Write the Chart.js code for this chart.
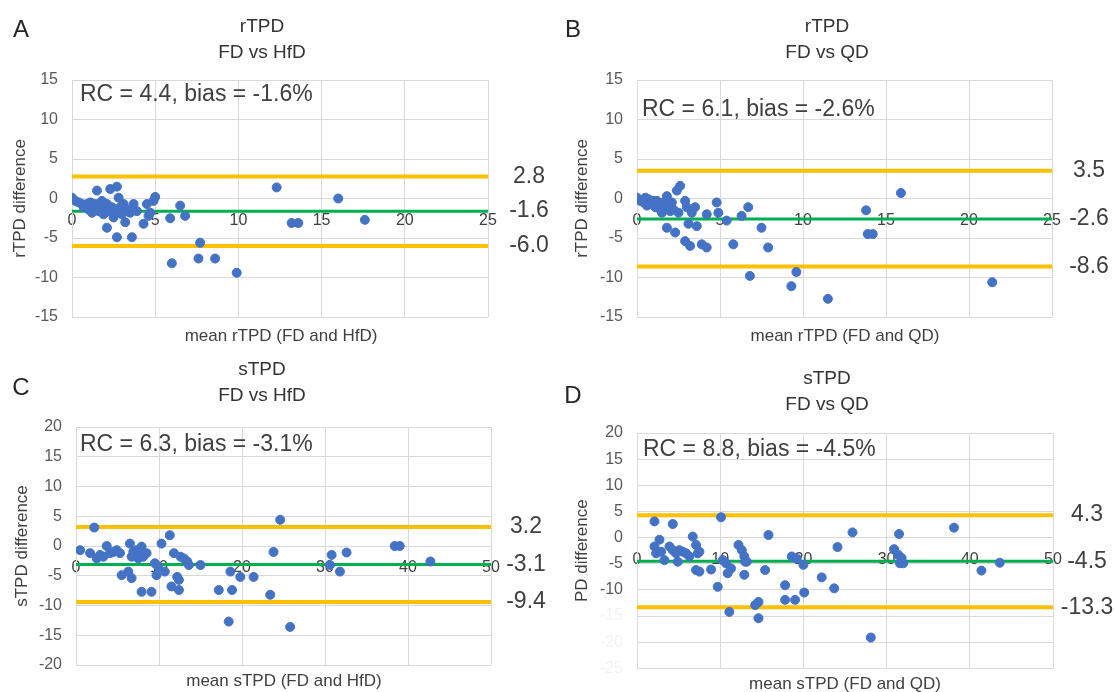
<!DOCTYPE html>
<html>
<head>
<meta charset="utf-8">
<script src="https://cdn.jsdelivr.net/npm/chart.js@4.4.0/dist/chart.umd.min.js"></script>
<style>
  body { margin: 0; background: #fff; width: 1117px; height: 692px; overflow: hidden; position: relative;
         font-family: "Liberation Sans", Arial, sans-serif; }
  .panel { position: absolute; }
  .txt { position: absolute; white-space: nowrap; transform: translate(-50%, -50%); color: #333; line-height: 1; }
  .letter { font-size: 24px; color: #262626; }
  .title { font-size: 19px; }
  .xtitle { font-size: 17px; color: #404040; }
</style>
</head>
<body>
<script>
// A: rTPD, FD vs HfD
const rtpdHfdMean = [0.0,0.2,0.4,0.6,0.7,0.9,1.0,1.1,1.2,1.3,1.4,1.5,1.6,1.7,1.8,1.9,2.0,2.1,2.2,2.3,
    2.4,2.5,2.6,2.7,2.8,2.9,3.0,3.1,3.2,3.3,3.5,3.7,3.9,4.3,4.5,4.6,4.7,4.9,5.0,
    2.1,2.7,3.6,5.9,6.5,6.8,6.0,7.7,7.6,8.6,9.9,12.3,13.2,13.6,16.0,17.6];
const rtpdHfdDiff = [0.1,-0.3,-0.5,-0.7,-1.1,-0.7,-1.4,-0.5,-1.8,-1.1,-0.7,1.0,-1.6,-1.1,-0.3,-2.0,-1.4,-0.7,-1.6,1.2,
    -1.1,-2.4,-1.8,1.5,0.1,-1.1,-2.0,-0.7,-3.0,-1.4,-1.8,-0.7,-1.6,-3.2,-0.7,-2.2,-1.8,-0.3,0.2,
    -3.7,-4.9,-4.9,-2.5,-0.9,-2.2,-8.2,-5.6,-7.6,-7.6,-9.4,1.4,-3.1,-3.1,0.0,-2.7];
const rtpdHfdLimits = [2.8, -1.6, -6.0];

// B: rTPD, FD vs QD
const rtpdQdMean = [0,0.2,0.4,0.5,0.6,0.7,0.8,1.0,1.1,1.2,1.3,1.4,1.5,1.6,1.7,1.8,1.9,2.0,2.1,2.2,
    2.4,2.5,2.6,1.8,2.3,2.9,3.0,3.1,2.9,3.2,3.3,3.5,3.6,3.9,4.2,4.2,4.8,4.9,5.4,5.8,
    6.3,6.7,6.8,7.5,7.9,9.3,9.6,11.5,13.8,13.9,14.2,15.9,21.4];
const rtpdQdDiff = [0.1,-0.3,-0.5,0.1,-0.9,-0.1,-0.7,-0.3,-1.1,-0.3,-0.7,-1.4,-1.8,-0.5,-1.1,0.3,-0.9,-1.6,-0.5,-1.4,
    1.0,-1.8,1.6,-3.7,-4.3,-0.3,-1.1,-3.2,-5.4,-6.0,-1.8,-1.1,-3.5,-5.8,-6.2,-2.0,-0.5,-1.8,-2.8,-5.8,
    -2.2,-1.1,-9.8,-3.7,-6.2,-11.1,-9.3,-12.7,-1.5,-4.5,-4.5,0.7,-10.6];
const rtpdQdLimits = [3.5, -2.6, -8.6];

// C: sTPD, FD vs HfD
const stpdHfdMean = [0.5,1.7,2.2,2.5,2.9,3.3,3.7,4.1,4.5,4.9,5.3,5.5,6.3,6.5,6.7,6.7,6.9,7.1,7.3,7.5,
    7.7,7.9,7.9,8.1,8.5,9.1,9.5,9.7,9.9,10.3,10.7,11.3,11.8,12.2,12.4,12.4,11.5,12.6,13.0,13.4,
    13.6,15.0,17.2,18.4,18.6,18.8,19.8,21.4,23.4,23.8,24.6,25.8,30.8,32.6,30.6,31.8,38.4,39.0,42.7];
const stpdHfdDiff = [-0.7,-1.2,3.1,-2.1,-1.5,-1.8,0,-1.2,-1.0,-0.7,-1.2,-4.9,-4.3,0.4,-1.8,-5.4,-1.0,-1.5,-0.7,-2.1,
    -1.2,-0.1,-7.7,-1.8,-1.2,-7.7,-2.9,-4.9,-3.5,0.4,-4.3,1.8,-1.2,-5.2,-5.7,-7.4,-6.8,-1.8,-2.1,-2.6,
    -3.2,-3.2,-7.4,-12.7,-4.3,-7.4,-5.2,-5.2,-8.2,-1.0,4.4,-13.6,-1.5,-1.1,-3.2,-4.3,0,0,-2.6];
const stpdHfdLimits = [3.2, -3.1, -9.4];

// D: sTPD, FD vs QD
const stpdQdMean = [2.1,4.3,2.1,2.7,2.3,2.9,3.3,3.9,4.3,4.7,4.9,5.1,5.5,5.9,6.3,6.7,7.1,7.3,7.5,7.1,
    7.5,8.9,9.7,10.1,10.3,10.7,10.9,11.3,11.1,12.2,12.6,12.9,13.0,12.9,13.2,14.2,14.6,14.6,15.4,15.8,
    17.8,17.8,18.6,19.0,19.2,20.0,20.1,22.2,23.7,24.1,25.9,28.1,30.9,31.5,31.4,31.8,31.6,32.0,38.1,41.4,43.6];
const stpdQdDiff = [3.1,2.6,-1.7,-0.4,-3.0,-2.7,-4.3,-1.7,-2.4,-3.0,-4.6,-2.4,-2.7,-3.0,-3.6,0.2,-1.4,-3.0,-2.7,-6.2,
    -6.5,-6.1,-9.4,3.9,-4.3,-4.9,-6.8,-5.9,-14.2,-1.4,-2.4,-3.6,-4.6,-7.1,-4.6,-12.9,-12.3,-15.4,-6.2,0.5,
    -9.1,-11.9,-3.6,-11.9,-4.0,-5.2,-10.5,-7.6,-9.7,-1.8,1.0,-19.1,-2.2,0.7,-3.3,-3.9,-4.9,-4.9,1.9,-6.3,-4.8];
const stpdQdLimits = [4.3, -4.5, -13.3];

// tick labels
const xTicksR = [0, 5, 10, 15, 20, 25];
const xTicksS = [0, 10, 20, 30, 40, 50];
const yTicksR = [-15, -10, -5, 0, 5, 10, 15];
const yTicksC = [-20, -15, -10, -5, 0, 5, 10, 15, 20];
const yTicksD = [-25, -20, -15, -10, -5, 0, 5, 10, 15, 20];

const notes = ['RC = 4.4, bias = -1.6%', 'RC = 6.1, bias = -2.6%', 'RC = 6.3, bias = -3.1%', 'RC = 8.8, bias = -4.5%'];

Chart.defaults.font.family = '"Liberation Sans", Arial, sans-serif';

const panels = [
    { letter: 'A', title: ['rTPD', 'FD vs HfD'], yTitle: 'rTPD difference', xTitle: 'mean rTPD (FD and HfD)',
      mean: rtpdHfdMean, diff: rtpdHfdDiff, limits: rtpdHfdLimits, xTicks: xTicksR, yTicks: yTicksR, note: notes[0],
      box: [0, 0, 558, 346], area: [72, 80, 488, 317], yTitlePad: 10, noteAt: [8, 15], labelDx: 41,
      letterAt: [21, 29], titleAt: [262, 25], xTitleAt: [281, 335] },
    { letter: 'B', title: ['rTPD', 'FD vs QD'], yTitle: 'rTPD difference', xTitle: 'mean rTPD (FD and QD)',
      mean: rtpdQdMean, diff: rtpdQdDiff, limits: rtpdQdLimits, xTicks: xTicksR, yTicks: yTicksR, note: notes[1],
      box: [558, 0, 559, 346], area: [79, 80, 494, 317], yTitlePad: 14, noteAt: [5, 30], labelDx: 37,
      letterAt: [573, 29], titleAt: [827, 25], xTitleAt: [845, 335] },
    { letter: 'C', title: ['sTPD', 'FD vs HfD'], yTitle: 'sTPD difference', xTitle: 'mean sTPD (FD and HfD)',
      mean: stpdHfdMean, diff: stpdHfdDiff, limits: stpdHfdLimits, xTicks: xTicksS, yTicks: yTicksC, note: notes[2],
      box: [0, 346, 558, 346], area: [76, 81, 491, 319], yTitlePad: 12, noteAt: [4, 18], labelDx: 35,
      letterAt: [21, 387], titleAt: [262, 368], xTitleAt: [284, 680] },
    { letter: 'D', title: ['sTPD', 'FD vs QD'], yTitle: 'PD difference', xTitle: 'mean sTPD (FD and QD)',
      mean: stpdQdMean, diff: stpdQdDiff, limits: stpdQdLimits, xTicks: xTicksS, yTicks: yTicksD, note: notes[3],
      box: [558, 346, 559, 346], area: [79, 87, 495, 326], yTitlePad: 14, noteAt: [6, 17], labelDx: 34,
      letterAt: [573, 395], titleAt: [827, 377], xTitleAt: [845, 683], fadeBelow: -10 }
];

function addText(text, cls, at) {
    const el = document.createElement('div');
    el.className = 'txt ' + cls;
    el.textContent = text;
    el.style.left = at[0] + 'px';
    el.style.top = at[1] + 'px';
    document.body.appendChild(el);
}

function limitLine(value, xTicks, color, width) {
    return {
        type: 'line',
        data: [{ x: xTicks[0], y: value }, { x: xTicks[xTicks.length - 1], y: value }],
        borderColor: color,
        borderWidth: width,
        pointRadius: 0,
        fill: false,
        order: 1
    };
}

// annotation text + limit values on the right
function textPlugin(p) {
    return {
        id: 'text' + p.letter,
        afterDraw(chart) {
            const { ctx, chartArea, scales } = chart;
            ctx.save();
            ctx.fillStyle = '#404040';
            ctx.textBaseline = 'middle';
            ctx.font = '23px "Liberation Sans", Arial, sans-serif';
            ctx.textAlign = 'left';
            ctx.fillText(p.note, chartArea.left + p.noteAt[0], chartArea.top + p.noteAt[1]);
            ctx.font = '23px "Liberation Sans", Arial, sans-serif';
            ctx.textAlign = 'center';
            p.limits.forEach(v => {
                ctx.fillText(v.toFixed(1), chartArea.right + p.labelDx, scales.y.getPixelForValue(v));
            });
            ctx.restore();
        }
    };
}

function makePanel(p) {
    const wrap = document.createElement('div');
    wrap.className = 'panel';
    wrap.style.left = p.box[0] + 'px';
    wrap.style.top = p.box[1] + 'px';
    const canvas = document.createElement('canvas');
    canvas.width = p.box[2];
    canvas.height = p.box[3];
    wrap.appendChild(canvas);
    document.body.appendChild(wrap);

    addText(p.letter, 'letter', p.letterAt);
    addText(p.title[0], 'title', p.titleAt);
    addText(p.title[1], 'title', [p.titleAt[0], p.titleAt[1] + 26]);
    addText(p.xTitle, 'xtitle', p.xTitleAt);

    const fade = p.fadeBelow;
    new Chart(canvas, {
        type: 'scatter',
        data: {
            datasets: [
                {
                    data: p.mean.map((m, i) => ({ x: m, y: p.diff[i] })),
                    backgroundColor: '#4472C4',
                    borderColor: '#4472C4',
                    borderWidth: 1,
                    pointRadius: 4.5,
                    pointHoverRadius: 4.5,
                    order: 0
                },
                limitLine(p.limits[0], p.xTicks, '#FFC000', 4),
                limitLine(p.limits[1], p.xTicks, '#00B050', 3),
                limitLine(p.limits[2], p.xTicks, '#FFC000', 4)
            ]
        },
        options: {
            responsive: false,
            animation: false,
            events: [],
            layout: {
                padding: { left: 0, top: p.area[1], right: p.box[2] - p.area[2], bottom: p.box[3] - p.area[3] }
            },
            plugins: { legend: { display: false }, tooltip: { enabled: false } },
            scales: {
                x: {
                    type: 'linear',
                    position: { y: 0 },
                    min: p.xTicks[0],
                    max: p.xTicks[p.xTicks.length - 1],
                    afterBuildTicks: s => { s.ticks = p.xTicks.map(v => ({ value: v })); },
                    grid: { color: '#d9d9d9', drawTicks: false },
                    border: { color: '#d9d9d9' },
                    ticks: { padding: 12, color: '#404040', font: { size: 16 } }
                },
                y: {
                    type: 'linear',
                    min: p.yTicks[0],
                    max: p.yTicks[p.yTicks.length - 1],
                    afterBuildTicks: s => { s.ticks = p.yTicks.map(v => ({ value: v })); },
                    afterFit: s => { s.width = p.area[0]; },
                    grid: { color: '#d9d9d9', drawTicks: false },
                    border: { color: '#d9d9d9' },
                    ticks: {
                        padding: 14,
                        font: { size: 16 },
                        color: c => (fade !== undefined && c.tick && c.tick.value < fade) ? '#f3f3f3' : '#595959'
                    },
                    title: {
                        display: true,
                        text: p.yTitle,
                        color: '#404040',
                        font: { size: 17 },
                        padding: { top: p.yTitlePad, bottom: 0 }
                    }
                }
            }
        },
        plugins: [textPlugin(p)]
    });
}

panels.forEach(makePanel);
</script>
</body>
</html>
